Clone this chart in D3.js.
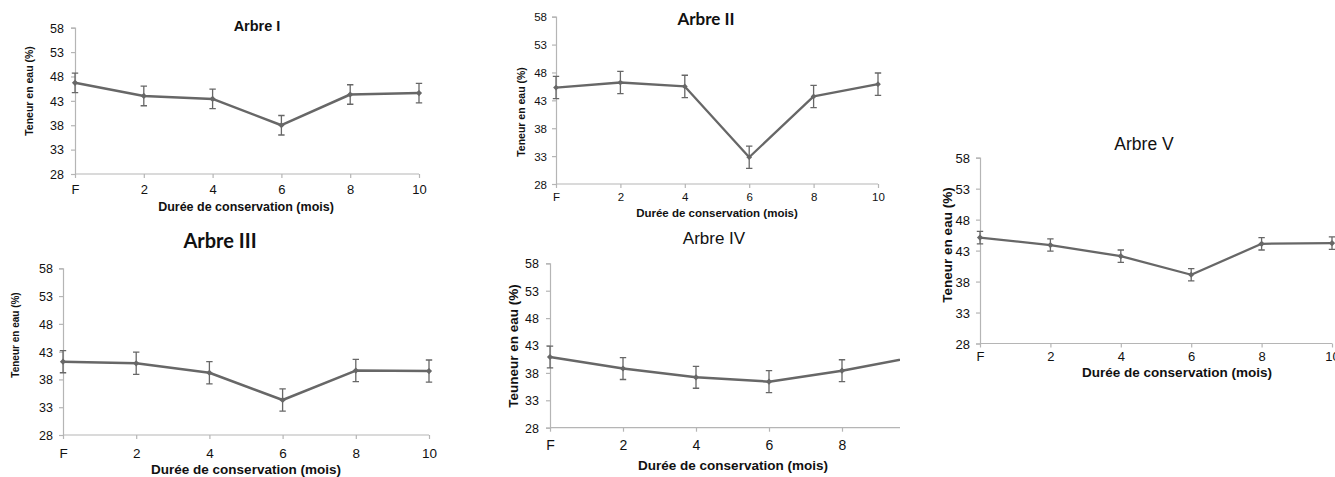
<!DOCTYPE html>
<html>
<head>
<meta charset="utf-8">
<script src="https://cdn.jsdelivr.net/npm/d3@7/dist/d3.min.js"></script>
<style>
  html, body { margin: 0; padding: 0; background: #fff; }
  svg { display: block; }
  text { font-family: "Liberation Sans", Arial, sans-serif; fill: #111; }
</style>
</head>
<body>
<svg id="chart" width="1335" height="477"></svg>
<script>
// ---- data ----
const categories = ["F", "2", "4", "6", "8", "10"];
const yTicks = [28, 33, 38, 43, 48, 53, 58];
const arbreI   = [46.7, 44.0, 43.4, 38.0, 44.3, 44.6];
const arbreII  = [45.3, 46.2, 45.5, 32.8, 43.7, 45.9];
const arbreIII = [41.2, 40.9, 39.2, 34.3, 39.6, 39.5];
const arbreIV  = [40.9, 38.8, 37.2, 36.4, 38.4, 40.9];
const arbreV   = [45.1, 43.9, 42.1, 39.1, 44.1, 44.2];
const errI   = [2, 2, 2, 2, 2, 2];
const errII  = [2, 2, 2, 2, 2, 2];
const errIII = [2, 2, 2, 2, 2, 2];
const errIV  = [2, 2, 2, 2, 2, 2];
const errV   = [1, 1, 1, 1, 1, 1];
const titles = ["Arbre I", "Arbre II", "Arbre III", "Arbre IV", "Arbre V"];
const xTitle = "Durée de conservation (mois)";
const yTitles = ["Teneur en eau (%)", "Teneur en eau (%)", "Teneur en eau (%)", "Teuneur en eau (%)", "Teneur en eau (%)"];

// ---- layout ----
const panels = [
  { values: arbreI, errs: errI, title: titles[0], yTitle: yTitles[0],
    x0: 75, x1: 419, yTop: 27.7, yBot: 174, clipRight: null,
    title_: { x: 257, y: 31, size: 14.5, weight: "bold", family: null },
    yTickSize: 12.5, yTickEnd: 64, xTickSize: 13, xTickBase: 194,
    xt: { x: 246, y: 211, size: 12.5 }, yt: { x: 29, y: 91, size: 10.5 },
    lw: 2.5, ms: 7 },
  { values: arbreII, errs: errII, title: titles[1], yTitle: yTitles[1],
    x0: 556, x1: 878, yTop: 16.7, yBot: 184, clipRight: null,
    title_: { x: 706, y: 25, size: 17, weight: "bold", family: "Lato" },
    yTickSize: 11.5, yTickEnd: 547, xTickSize: 11.5, xTickBase: 201,
    xt: { x: 717, y: 217, size: 11.5 }, yt: { x: 521, y: 112, size: 10.5 },
    lw: 2.3, ms: 6.5 },
  { values: arbreIII, errs: errIII, title: titles[2], yTitle: yTitles[2],
    x0: 63, x1: 429, yTop: 268.3, yBot: 435, clipRight: null,
    title_: { x: 220, y: 248, size: 20, weight: "bold", family: "Lato" },
    yTickSize: 12.5, yTickEnd: 53, xTickSize: 13.5, xTickBase: 458,
    xt: { x: 246, y: 474, size: 13.5 }, yt: { x: 15, y: 335, size: 10 },
    lw: 2.5, ms: 7 },
  { values: arbreIV, errs: errIV, title: titles[3], yTitle: yTitles[3],
    x0: 550, x1: 915, yTop: 263.3, yBot: 427.7, clipRight: 900,
    title_: { x: 714, y: 244, size: 17, weight: "normal", family: null },
    yTickSize: 12.5, yTickEnd: 539, xTickSize: 14, xTickBase: 450,
    xt: { x: 733, y: 470, size: 13.5 }, yt: { x: 513, y: 346, size: 13.5 },
    lw: 2.5, ms: 7 },
  { values: arbreV, errs: errV, title: titles[4], yTitle: yTitles[4],
    x0: 980, x1: 1332, yTop: 157.7, yBot: 343.5, clipRight: null,
    title_: { x: 1144, y: 150, size: 17.5, weight: "normal", family: null },
    yTickSize: 13, yTickEnd: 970, xTickSize: 13, xTickBase: 361,
    xt: { x: 1177, y: 377, size: 13.5 }, yt: { x: 947, y: 245, size: 13.5 },
    lw: 2.3, ms: 7 }
];

const svg = d3.select("#chart");
const axisColor = "#b5b5b5";
const lineColor = "#676767";
const defs = svg.append("defs");

panels.forEach((p, i) => {
  const x = d3.scalePoint().domain(categories).range([p.x0, p.x1]).padding(0);
  const y = d3.scaleLinear().domain([28, 58]).range([p.yBot, p.yTop]);
  const g = svg.append("g");
  const rightEdge = p.clipRight !== null ? p.clipRight : 1335;

  if (p.clipRight !== null) {
    defs.append("clipPath").attr("id", "clip" + i)
      .append("rect").attr("x", 0).attr("y", 0).attr("width", p.clipRight).attr("height", 477);
    g.attr("clip-path", "url(#clip" + i + ")");
  }

  // y axis
  const yAxis = d3.axisLeft(y).tickValues(yTicks).tickSize(4).tickPadding(0);
  const ya = g.append("g").attr("transform", `translate(${p.x0},0)`).call(yAxis);
  ya.attr("font-size", null);
  ya.select(".domain").attr("stroke", axisColor).attr("stroke-width", 1.2);
  ya.selectAll(".tick line").attr("stroke", axisColor).attr("stroke-width", 1.2);
  ya.selectAll(".tick text")
    .attr("x", p.yTickEnd - p.x0)
    .attr("dy", "0.35em")
    .attr("text-anchor", "end")
    .attr("font-size", p.yTickSize)
    .style("font-size", p.yTickSize + "px")
    .attr("fill", "#222");

  // x axis
  const xAxis = d3.axisBottom(x).tickSize(4).tickPadding(0);
  const xa = g.append("g").attr("transform", `translate(0,${p.yBot})`).call(xAxis);
  xa.attr("font-size", null);
  xa.select(".domain").attr("stroke", axisColor).attr("stroke-width", 1.2)
    .attr("d", `M${p.x0},0H${Math.min(p.x1, rightEdge)}`);
  xa.selectAll(".tick line").attr("stroke", axisColor).attr("stroke-width", 1.2);
  xa.selectAll(".tick text")
    .attr("y", p.xTickBase - p.yBot)
    .attr("dy", 0)
    .attr("font-size", p.xTickSize)
    .style("font-size", p.xTickSize + "px")
    .attr("fill", "#222");

  // error bars
  const cap = 3.2;
  const eb = g.append("g").attr("stroke", lineColor).attr("stroke-width", 1.3).attr("fill", "none");
  p.values.forEach((v, k) => {
    const cx = x(categories[k]);
    const yt = y(v + p.errs[k]), yb = y(v - p.errs[k]);
    eb.append("path").attr("d", `M${cx},${yt}V${yb}M${cx - cap},${yt}H${cx + cap}M${cx - cap},${yb}H${cx + cap}`);
  });

  // line
  const line = d3.line().x((d, k) => x(categories[k])).y(d => y(d));
  g.append("path").datum(p.values).attr("d", line)
    .attr("fill", "none").attr("stroke", lineColor).attr("stroke-width", p.lw)
    .attr("stroke-linejoin", "round");

  // markers (diamonds)
  const sym = d3.symbol().type(d3.symbolDiamond2).size(p.ms * p.ms * 0.5);
  g.selectAll(".mk").data(p.values).enter().append("path")
    .attr("transform", (d, k) => `translate(${x(categories[k])},${y(d)})`)
    .attr("d", sym).attr("fill", lineColor);

  // titles
  svg.append("text").attr("x", p.title_.x).attr("y", p.title_.y)
    .attr("text-anchor", "middle")
    .style("font-size", p.title_.size + "px")
    .style("font-weight", p.title_.weight)
    .style("font-family", p.title_.family ? `"${p.title_.family}", "Liberation Sans", sans-serif` : '"Liberation Sans", Arial, sans-serif')
    .text(p.title);

  svg.append("text").attr("x", p.xt.x).attr("y", p.xt.y)
    .attr("text-anchor", "middle")
    .style("font-size", p.xt.size + "px").style("font-weight", "bold")
    .text(xTitle);

  svg.append("text")
    .attr("transform", `translate(${p.yt.x},${p.yt.y}) rotate(-90)`)
    .attr("text-anchor", "middle").attr("dy", "0.35em")
    .style("font-size", p.yt.size + "px").style("font-weight", "bold")
    .text(p.yTitle);
});
</script>
</body>
</html>
